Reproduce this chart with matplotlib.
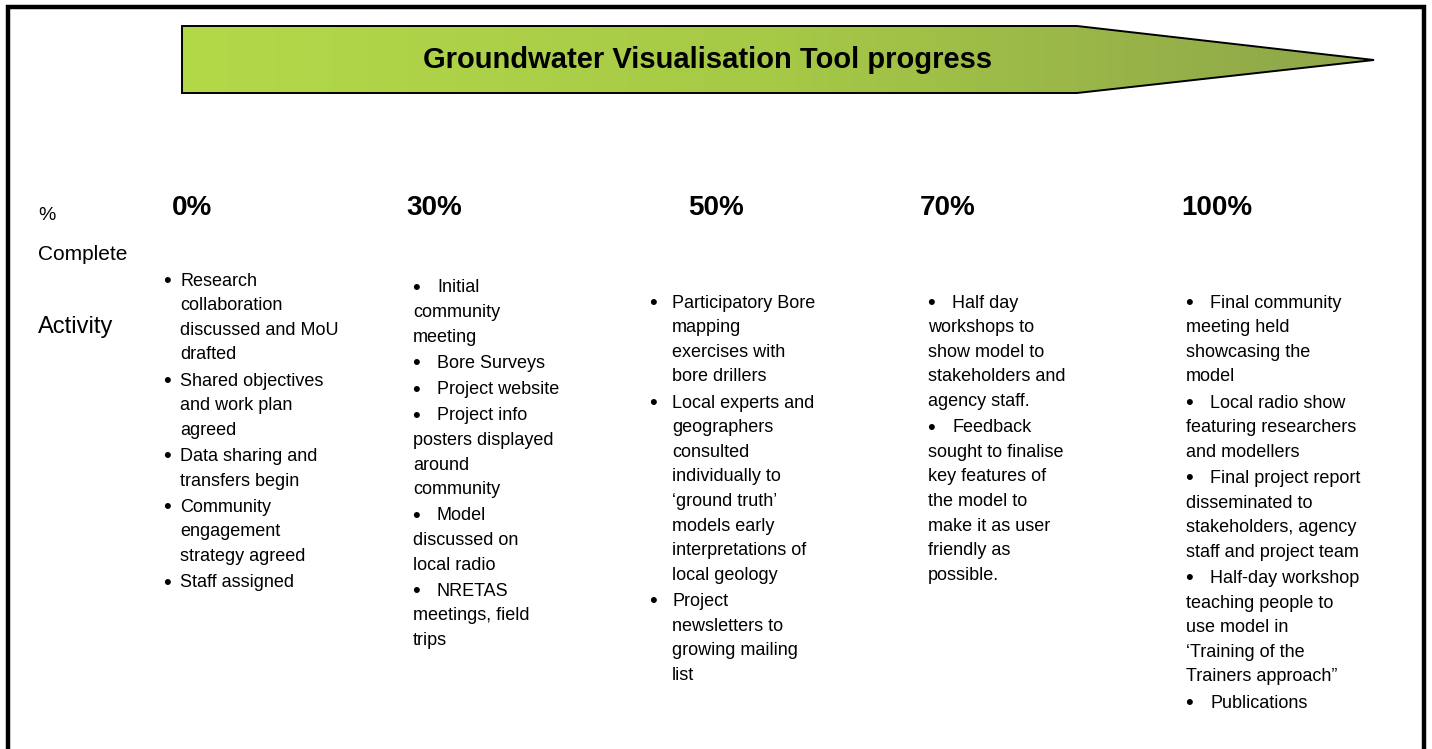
import matplotlib
matplotlib.use('Agg')
import matplotlib.pyplot as plt
import numpy as np
from matplotlib.patches import Polygon
from matplotlib.colors import LinearSegmentedColormap

# ---- content ----
title = "Groundwater Visualisation Tool progress"
stages = ["0%", "30%", "50%", "70%", "100%"]
row_labels = ["%", "Complete", "Activity"]
activities = [
    [["Research", "collaboration", "discussed and MoU", "drafted"],
     ["Shared objectives", "and work plan", "agreed"],
     ["Data sharing and", "transfers begin"],
     ["Community", "engagement", "strategy agreed"],
     ["Staff assigned"]],
    [["Initial", "community", "meeting"],
     ["Bore Surveys"],
     ["Project website"],
     ["Project info", "posters displayed", "around", "community"],
     ["Model", "discussed on", "local radio"],
     ["NRETAS", "meetings, field", "trips"]],
    [["Participatory Bore", "mapping", "exercises with", "bore drillers"],
     ["Local experts and", "geographers", "consulted", "individually to",
      "\u2018ground truth\u2019", "models early", "interpretations of", "local geology"],
     ["Project", "newsletters to", "growing mailing", "list"]],
    [["Half day", "workshops to", "show model to", "stakeholders and", "agency staff."],
     ["Feedback", "sought to finalise", "key features of", "the model to",
      "make it as user", "friendly as", "possible."]],
    [["Final community", "meeting held", "showcasing the", "model"],
     ["Local radio show", "featuring researchers", "and modellers"],
     ["Final project report", "disseminated to", "stakeholders, agency", "staff and project team"],
     ["Half-day workshop", "teaching people to", "use model in",
      "\u2018Training of the", "Trainers approach\u201d"],
     ["Publications"]],
]

# ---- layout (pixels) ----
W, H = 1432, 749
FONT = 'Liberation Sans'
header_x = [172, 406, 688, 920, 1181]
bullet_x = [167, 416, 653, 931, 1189]
text_x = [180, 437, 672, 952, 1210]
cont_x = [180, 413, 672, 928, 1186]
start_y = [279, 286, 301, 301, 301]
line_h = 24.6
item_gap = 1.6
body_size = 13

fig = plt.figure(figsize=(W / 100, H / 100), dpi=100)
ax = fig.add_axes([0, 0, 1, 1])
ax.set_xlim(0, W)
ax.set_ylim(H, 0)
ax.axis('off')

# outer border (bottom is off-canvas)
ax.plot([8, 8, 1424, 1424], [H + 10, 7, 7, H + 10], color='black', lw=3.2,
        solid_joinstyle='miter', zorder=5)

# arrow banner with gradient
verts = [(182, 26), (1077, 26), (1374, 60), (1077, 93), (182, 93)]
poly = Polygon(verts, closed=True, facecolor='none', edgecolor='black', lw=1.4, zorder=3)
ax.add_patch(poly)
cmap = LinearSegmentedColormap.from_list('g', ['#b3d949', '#a6c946', '#8ea54a'])
grad = np.linspace(0, 1, 512).reshape(1, -1)
im = ax.imshow(grad, cmap=cmap, extent=(182, 1374, 93, 26), aspect='auto', zorder=2)
clip = Polygon(verts, closed=True, transform=ax.transData)
im.set_clip_path(clip)
ax.text(708, 60, title, fontsize=21, fontweight='bold', family=FONT,
        ha='center', va='center', zorder=4)

# row labels
ax.text(38, 215, row_labels[0], fontsize=14, family=FONT, ha='left', va='center')
ax.text(38, 254, row_labels[1], fontsize=15, family=FONT, ha='left', va='center')
ax.text(38, 327, row_labels[2], fontsize=17, family=FONT, ha='left', va='center')

# stage headers
for s, hx in zip(stages, header_x):
    ax.text(hx, 208, s, fontsize=20, fontweight='bold', family=FONT, ha='left', va='center')

# activities
for ci, items in enumerate(activities):
    y = start_y[ci]
    for item in items:
        for li, line in enumerate(item):
            base = y + 6.5
            if li == 0:
                ax.text(bullet_x[ci], base + 1.5, "\u2022", fontsize=16, family=FONT,
                        ha='center', va='baseline')
                ax.text(text_x[ci], base, line, fontsize=body_size, family=FONT,
                        ha='left', va='baseline')
            else:
                ax.text(cont_x[ci], base, line, fontsize=body_size, family=FONT,
                        ha='left', va='baseline')
            y += line_h
        y += item_gap

fig.savefig('out.png', dpi=100, facecolor='white')
